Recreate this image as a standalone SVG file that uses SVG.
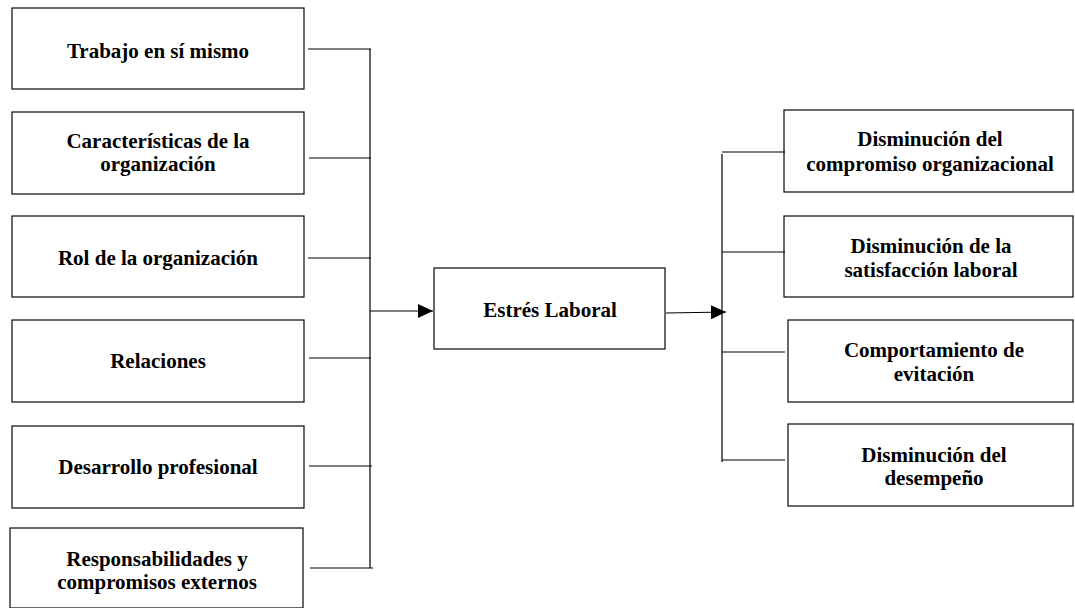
<svg xmlns="http://www.w3.org/2000/svg" width="1075" height="608" viewBox="0 0 1075 608">
  <style>
    .box { fill: #ffffff; stroke: #1a1a1a; stroke-width: 1.3; }
    .lbl { font-family: "Liberation Serif", "Times New Roman", serif; font-weight: bold; font-size: 21px; fill: #000; text-anchor: middle; }
    .wire { stroke: #000; stroke-width: 1.2; fill: none; }
  </style>
  <defs>
    <marker id="head" markerWidth="16" markerHeight="14" refX="15" refY="7" orient="auto" markerUnits="userSpaceOnUse">
      <path d="M0,0 L15,7 L0,14 Z" fill="#000"/>
    </marker>
  </defs>
  <rect width="1075" height="608" fill="#ffffff"/>

  <!-- causes -->
  <g id="n-trabajo">
    <rect class="box" x="12" y="8" width="292" height="81"/>
    <text class="lbl" x="158" y="58">Trabajo en sí mismo</text>
  </g>
  <g id="n-caracteristicas">
    <rect class="box" x="12" y="112" width="292" height="82"/>
    <text class="lbl" x="158" y="148">Características de la</text>
    <text class="lbl" x="158" y="171">organización</text>
  </g>
  <g id="n-rol">
    <rect class="box" x="12" y="216" width="292" height="81"/>
    <text class="lbl" x="158" y="265">Rol de la organización</text>
  </g>
  <g id="n-relaciones">
    <rect class="box" x="12" y="320" width="292" height="82"/>
    <text class="lbl" x="158" y="368">Relaciones</text>
  </g>
  <g id="n-desarrollo">
    <rect class="box" x="12" y="426" width="292" height="82"/>
    <text class="lbl" x="158" y="474">Desarrollo profesional</text>
  </g>
  <g id="n-responsabilidades">
    <rect class="box" x="10" y="528" width="293" height="80"/>
    <text class="lbl" x="157" y="566">Responsabilidades y</text>
    <text class="lbl" x="157" y="589">compromisos externos</text>
  </g>

  <!-- centre -->
  <g id="n-estres">
    <rect class="box" x="434" y="268" width="231" height="81"/>
    <text class="lbl" x="550" y="317">Estrés Laboral</text>
  </g>

  <!-- effects -->
  <g id="n-compromiso">
    <rect class="box" x="784" y="110" width="289" height="82"/>
    <text class="lbl" x="930" y="146">Disminución del</text>
    <text class="lbl" x="930" y="171">compromiso organizacional</text>
  </g>
  <g id="n-satisfaccion">
    <rect class="box" x="784" y="216" width="289" height="81"/>
    <text class="lbl" x="931" y="253">Disminución de la</text>
    <text class="lbl" x="931" y="277">satisfacción laboral</text>
  </g>
  <g id="n-evitacion">
    <rect class="box" x="788" y="320" width="285" height="82"/>
    <text class="lbl" x="934" y="357">Comportamiento de</text>
    <text class="lbl" x="934" y="381">evitación</text>
  </g>
  <g id="n-desempeno">
    <rect class="box" x="788" y="424" width="285" height="82"/>
    <text class="lbl" x="934" y="462">Disminución del</text>
    <text class="lbl" x="934" y="485">desempeño</text>
  </g>

  <!-- connectors -->
  <g id="connectors">
    <path class="wire" d="M308,49 H371 M309,158 H371 M308,258 H371 M309,358 H371 M309,466 H372 M310,568 H373"/>
    <path class="wire" d="M370,49 V568"/>
    <path class="wire" d="M370,311 H433" marker-end="url(#head)"/>
    <path class="wire" d="M666,313 L726,312" marker-end="url(#head)"/>
    <path class="wire" d="M722,154 V462"/>
    <path class="wire" d="M722,152 H785 M722,252 H785 M722,352 H785 M722,460 H785"/>
  </g>
</svg>
